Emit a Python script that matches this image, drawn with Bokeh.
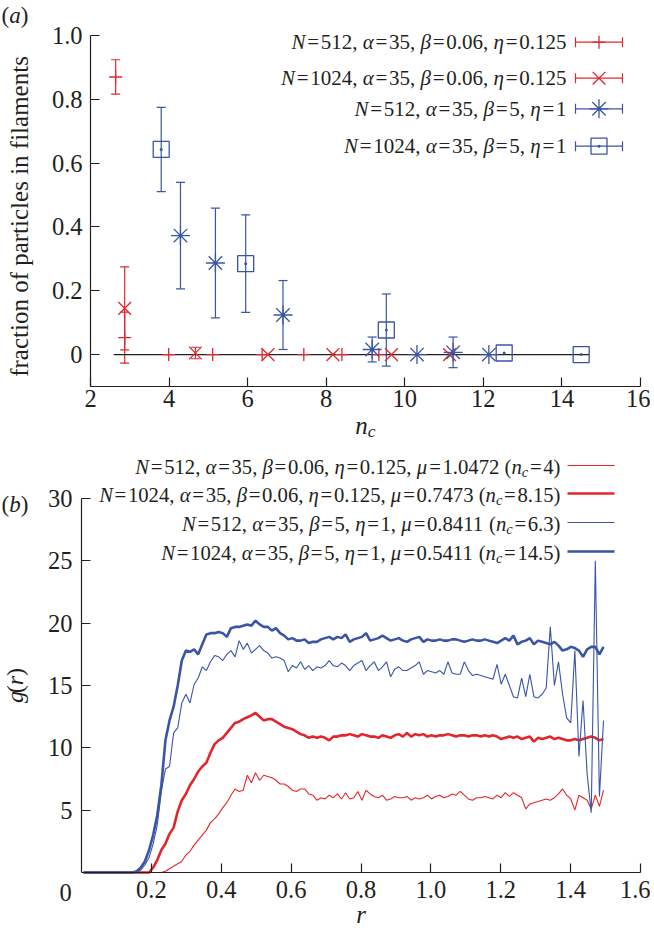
import math
import numpy as np
from bokeh.plotting import figure
from bokeh.layouts import column
from bokeh.models import ColumnDataSource, Whisker, TeeHead, Label, FixedTicker, Range1d
from bokeh.embed import file_html
from bokeh.resources import INLINE

# ---------------- data: panel (a) ----------------
leg_N = ["512", "1024", "512", "1024"]
leg_alpha = ["35", "35", "35", "35"]
leg_beta = ["0.06", "0.06", "5", "5"]
leg_eta = ["0.125", "0.125", "1", "1"]

# N=512, beta=0.06, eta=0.125
nc_a = [2.64, 2.87, 3.99, 5.11, 6.37, 7.43, 8.40, 9.34]
frac_a = [0.870, 0.053, 0.0, 0.0, 0.0, 0.0, 0.0, 0.0]
err_a = [0.054, 0.080, 0.0, 0.0, 0.0, 0.0, 0.0, 0.0]
# N=1024, beta=0.06, eta=0.125
nc_b = [2.87, 4.67, 6.52, 8.17, 9.66, 11.14]
frac_b = [0.145, 0.005, 0.0, 0.0, 0.0, 0.0]
err_b = [0.130, 0.018, 0.0, 0.0, 0.0, 0.0]
# N=512, beta=5, eta=1
nc_c = [4.29, 5.18, 6.90, 9.17, 10.31, 11.23, 12.14]
frac_c = [0.373, 0.287, 0.124, 0.016, 0.0, 0.007, 0.0]
err_c = [0.167, 0.172, 0.108, 0.039, 0.0, 0.048, 0.0]
# N=1024, beta=5, eta=1
nc_d = [3.80, 5.95, 9.53, 12.53, 14.49]
frac_d = [0.643, 0.285, 0.077, 0.005, 0.0]
err_d = [0.132, 0.153, 0.113, 0.0, 0.0]

xlim_a = (2, 16)
ylim_a = (-0.1, 1.0)
xticks_a = [2, 4, 6, 8, 10, 12, 14, 16]
yticks_a = [0, 0.2, 0.4, 0.6, 0.8, 1.0]
ylabels_a = ["0", "0.2", "0.4", "0.6", "0.8", "1.0"]

# ---------------- data: panel (b) ----------------
leg_mu = ["1.0472", "0.7473", "0.8411", "0.5411"]
leg_nc = ["4", "8.15", "6.3", "14.5"]
n_bins = 128
r_max = 1.5
r = (np.arange(n_bins) + 0.5) * r_max / n_bins  # bin centres

g_512_low = [
    0, 0, 0, 0, 0, 0, 0, 0, 0, 0,
    0, 0, 0, 0, 0, 0, 0, 0, 0, 0,
    0.1, 0.3, 0.5, 0.7, 0.9, 1.4, 1.7, 2.2, 2.6, 3.0,
    3.4, 4.0, 4.3, 4.7, 5.2, 5.6, 6.2, 6.7, 6.5, 6.6,
    7.8, 7.2, 8.0, 7.4, 7.8, 7.7, 7.6, 7.4, 7.1, 7.1,
    6.9, 6.6, 6.5, 6.7, 6.7, 6.3, 6.2, 5.8, 6.0, 5.9,
    6.2, 6.0, 6.3, 5.9, 6.4, 5.9, 6.0, 6.5, 5.8, 6.6,
    6.3, 6.1, 6.0, 6.2, 5.8, 5.9, 6.1, 6.0, 6.0, 6.1,
    5.8, 6.0, 5.9, 6.0, 6.2, 5.9, 6.1, 6.2, 6.0, 6.1,
    6.3, 6.2, 6.5, 6.2, 5.9, 5.8, 6.0, 6.0, 6.1, 6.0,
    5.9, 6.2, 6.0, 6.4, 6.1, 6.4, 6.2, 6.0, 5.1, 5.5,
    5.6, 5.7, 5.8, 5.9, 5.8, 6.0, 6.3, 6.7, 6.2, 5.9,
    5.0, 6.2, 6.0, 5.8, 5.1, 6.2, 5.3, 6.6,
]
g_1024_low = [
    0, 0, 0, 0, 0, 0, 0, 0, 0, 0,
    0, 0, 0, 0, 0, 0, 0, 0.4, 1.0, 1.8,
    2.3, 3.1, 3.6, 4.9, 5.8, 6.3, 7.0, 7.5, 8.1, 8.5,
    8.8, 9.6, 10.3, 10.6, 10.8, 11.2, 11.6, 12.0, 12.1, 12.3,
    12.45, 12.6, 12.8, 12.5, 12.2, 12.3, 12.3, 12.1, 11.9, 11.7,
    11.6, 11.5, 11.3, 11.1, 11.0, 10.8, 10.9, 10.8, 10.9, 10.8,
    10.6, 10.9, 10.9, 11.0, 11.0, 11.1, 11.0, 10.9, 11.1, 11.0,
    10.9, 10.9, 10.8, 11.0, 10.9, 10.8, 11.0, 11.1, 10.9, 11.2,
    10.9, 11.1, 11.0, 11.1, 10.9, 11.0, 10.9, 11.0, 11.0, 11.1,
    11.0, 10.9, 11.0, 11.0, 10.9, 11.0, 11.0, 10.9, 11.0, 10.9,
    11.0, 10.9, 10.7, 10.8, 10.9, 10.8, 10.9, 10.7, 10.8, 10.9,
    10.5, 10.8, 10.7, 10.8, 10.9, 10.7, 10.8, 10.7, 10.6, 10.6,
    10.7, 10.6, 10.7, 10.8, 10.9, 10.8, 10.6, 10.7,
]
g_512_high = [
    0, 0, 0, 0, 0, 0, 0, 0, 0, 0,
    0, 0, 0, 0, 0.2, 0.6, 1.2, 2.3, 3.8, 6.5,
    8.3, 8.5, 11.2, 11.6, 13.6, 14.3, 13.6, 15.1, 15.6, 16.5,
    16.2, 16.9, 17.4, 17.3, 17.0, 17.5, 17.8, 17.3, 18.6, 17.9,
    18.4, 17.6, 17.9, 18.2, 17.8, 17.6, 17.2, 17.3, 17.2, 17.0,
    16.1, 16.6, 16.4, 16.9, 16.3, 16.6, 16.2, 16.5, 16.4, 16.6,
    17.0, 16.6, 16.5, 16.8, 16.6, 16.2, 16.6, 16.8, 17.0, 16.2,
    16.6, 16.9, 16.2, 16.5, 16.9, 15.7, 16.3, 16.5, 16.2, 16.2,
    16.4, 16.6, 16.9, 15.9, 16.2, 16.1, 16.0, 16.2, 15.9, 16.9,
    16.0, 15.9, 15.9, 16.9, 16.2, 15.8, 15.9, 15.8, 15.7, 15.6,
    15.5, 16.7, 15.1, 15.9, 15.0, 14.1, 14.0, 15.6, 14.1, 15.9,
    14.1, 14.0, 14.3, 14.8, 19.7, 15.0, 16.9, 14.3, 12.4, 12.0,
    17.8, 9.3, 13.8, 7.9, 4.8, 25.0, 6.1, 12.2,
]
g_1024_high = [
    0, 0, 0, 0, 0, 0, 0, 0, 0, 0,
    0, 0, 0, 0.1, 0.4, 0.9, 1.8, 3.0, 4.6, 7.0,
    10.6, 12.2, 13.3, 15.0, 17.0, 17.8, 17.7, 17.9, 17.5, 18.3,
    19.1, 19.2, 19.2, 19.3, 19.2, 18.9, 19.6, 19.7, 19.7, 19.8,
    19.9, 19.8, 20.2, 19.9, 19.7, 19.7, 19.4, 19.6, 19.2, 19.0,
    18.7, 18.8, 18.6, 18.6, 18.7, 18.4, 18.5, 18.5, 18.7, 18.8,
    18.9, 18.7, 18.9, 18.8, 19.1, 18.5, 18.7, 18.8, 18.9, 19.2,
    18.6, 18.7, 18.8, 19.0, 18.8, 18.6, 18.7, 18.8, 18.6, 18.5,
    18.7, 18.8, 18.9, 18.5, 18.7, 18.6, 18.6, 18.7, 18.6, 18.6,
    18.7, 18.7, 18.6, 18.5, 18.6, 18.7, 18.6, 18.6, 18.7, 18.6,
    18.5, 18.4, 18.6, 18.8, 18.6, 19.0, 18.3, 18.5, 18.6, 18.8,
    18.3, 18.6, 18.5, 18.4, 18.3, 18.5, 18.2, 17.8, 17.9, 18.1,
    18.0, 17.8, 17.3, 17.9, 18.1, 18.1, 17.5, 18.1,
]
xlim_b = (0, 1.6)
ylim_b = (0, 30)
xticks_b = [0.2, 0.4, 0.6, 0.8, 1.0, 1.2, 1.4, 1.6]
xlabels_b = ["0.2", "0.4", "0.6", "0.8", "1.0", "1.2", "1.4", "1.6"]
yticks_b = [5, 10, 15, 20, 25, 30]

# ---------------- style ----------------
RED = "#e3262c"
BLUE = "#3a55a5"
INK = "#231f20"
FONT = "Liberation Serif"
TICK_SIZE = "24.5px"
BASE_FIX = 0.27  # empirical shift of the rendered alphabetic baseline (in em)

ROMAN_W = {".": 0.25, ",": 0.25, "=": 0.564, "(": 0.333, ")": 0.333, " ": 0.25}
ITALIC_W = {"N": 0.667, "n": 0.5, "c": 0.444, "r": 0.389, "g": 0.4, "a": 0.5, "b": 0.5,
            "α": 0.53, "β": 0.5, "η": 0.5, "μ": 0.52}


def tok_w(text, style, size):
    table = ROMAN_W if style == "r" else ITALIC_W
    s = size * (0.7 if style == "sub" else 1.0)
    return sum(table.get(ch, 0.5) for ch in text) * s


def tok_gap(prev, cur, size):
    if prev is None or cur[1] == "sub":
        return 0.0
    if prev[0] == "=" or cur[0] == "=":
        return 0.08 * size
    if prev[0].endswith(","):
        return 0.25 * size
    if cur[0] == "(":
        return 0.25 * size
    return 0.0


class Canvas:
    """Pixel layout of one figure: the data box (fl..fr, ft..fb in canvas px) maps to xlim/ylim;
    the plotting frame covers the whole canvas so every text can sit inside it."""

    def __init__(self, w, h, xlim, ylim, fl, fr, ft, fb):
        self.w, self.h = w, h
        self.xlim, self.ylim, self.fl, self.fr, self.ft, self.fb = xlim, ylim, fl, fr, ft, fb

    def dx(self, px):
        return self.xlim[0] + (px - self.fl) / (self.fr - self.fl) * (self.xlim[1] - self.xlim[0])

    def dy(self, py):
        return self.ylim[1] - (py - self.ft) / (self.fb - self.ft) * (self.ylim[1] - self.ylim[0])

    def x_range(self):
        return Range1d(self.dx(0), self.dx(self.w))

    def y_range(self):
        return Range1d(self.dy(self.h), self.dy(0))


def add_text(p, cv, px, py, text, size, italic=False, angle=0.0, align="left", baseline="alphabetic", color=INK):
    p.add_layout(Label(x=cv.dx(px), y=cv.dy(py), x_units="data", y_units="data", text=text,
                       angle=angle, text_font=FONT, text_font_size=f"{size:.1f}px",
                       text_font_style="italic" if italic else "normal",
                       text_color=color, text_align=align, text_baseline=baseline))


def draw_rich(p, cv, toks, anchor_px, center_py, size, align="right", vertical=False, tight=False):
    """Mixed upright / italic / subscript text; center_py is the visual middle of the digits."""
    widths = [tok_w(t, s, size) for t, s in toks]
    gaps = [0.0 if tight else tok_gap(toks[i - 1] if i else None, toks[i], size) for i in range(len(toks))]
    total = sum(widths) + sum(gaps)
    if not vertical:
        if align == "right":
            x = anchor_px - total
        elif align == "center":
            x = anchor_px - total / 2
        else:
            x = anchor_px
        base = center_py + (0.34 - BASE_FIX) * size
        for (t, s), w, gp in zip(toks, widths, gaps):
            x += gp
            fs = size * (0.7 if s == "sub" else 1.0)
            yb = base + (0.22 * size if s == "sub" else 0.0)
            add_text(p, cv, x, yb, t, fs, italic=(s != "r"))
            x += w
    else:
        y = center_py + total / 2
        bx = anchor_px + (0.3 - BASE_FIX) * size
        for (t, s), w, gp in zip(toks, widths, gaps):
            y -= gp
            add_text(p, cv, bx, y, t, size, italic=(s != "r"), angle=math.pi / 2)
            y -= w


def make_fig(cv):
    p = figure(width=cv.w, height=cv.h, x_range=cv.x_range(), y_range=cv.y_range(),
               output_backend="svg", toolbar_location=None, title=None,
               min_border=0, min_border_left=0, min_border_right=0,
               min_border_top=0, min_border_bottom=0)
    for ax in p.axis:
        ax.axis_line_color = INK
        ax.axis_line_width = 1.2
        ax.major_tick_line_color = INK
        ax.major_tick_line_width = 1.2
        ax.major_tick_in = 9
        ax.major_tick_out = 0
        ax.minor_tick_in = 0
        ax.minor_tick_out = 0
        ax.major_label_text_font = FONT
        ax.major_label_text_font_size = TICK_SIZE
        ax.major_label_text_color = INK
    p.xaxis.fixed_location = cv.ylim[0]
    p.xaxis.bounds = cv.xlim
    p.yaxis.fixed_location = cv.xlim[0]
    p.yaxis.bounds = cv.ylim
    p.xgrid.grid_line_color = None
    p.ygrid.grid_line_color = None
    p.outline_line_color = None
    return p


def param_tokens(i, with_mu):
    toks = [("N", "i"), ("=", "r"), (leg_N[i] + ",", "r"),
            ("α", "i"), ("=", "r"), (leg_alpha[i] + ",", "r"),
            ("β", "i"), ("=", "r"), (leg_beta[i] + ",", "r"),
            ("η", "i"), ("=", "r")]
    if not with_mu:
        toks.append((leg_eta[i], "r"))
    else:
        toks += [(leg_eta[i] + ",", "r"), ("μ", "i"), ("=", "r"), (leg_mu[i], "r"),
                 ("(", "r"), ("n", "i"), ("c", "sub"), ("=", "r"), (leg_nc[i] + ")", "r")]
    return toks


W = 650
# ================= panel (a) =================
HA = 450
ca = Canvas(W, HA, xlim_a, ylim_a, 90, 640, 35, 386)
pa = make_fig(ca)
pa.xaxis.ticker = FixedTicker(ticks=xticks_a)
pa.yaxis.ticker = FixedTicker(ticks=yticks_a)
pa.yaxis.major_label_overrides = {t: l for t, l in zip(yticks_a, ylabels_a)}
pa.xaxis.major_label_standoff = 3
pa.yaxis.major_label_standoff = 8

all_nc = nc_a + nc_b + nc_c + nc_d
pa.line([min(all_nc) - 0.05, max(all_nc) + 0.2], [0, 0], line_color=INK, line_width=1.2)

series_a = [
    (nc_a, frac_a, err_a, "cross", RED, 13),
    (nc_b, frac_b, err_b, "x", RED, 18),
    (nc_c, frac_c, err_c, "asterisk", BLUE, 19),
    (nc_d, frac_d, err_d, "square", BLUE, 16),
]
for xs, ys, es, mk, col, sz in series_a:
    xe = [x for x, e in zip(xs, es) if e > 0]
    ye = [y for y, e in zip(ys, es) if e > 0]
    ee = [e for e in es if e > 0]
    src = ColumnDataSource(dict(base=xe, lower=[y - e for y, e in zip(ye, ee)],
                                upper=[y + e for y, e in zip(ye, ee)]))
    pa.add_layout(Whisker(source=src, base="base", lower="lower", upper="upper", dimension="height",
                          line_color=col, line_width=1.2,
                          upper_head=TeeHead(size=9, line_color=col, line_width=1.2),
                          lower_head=TeeHead(size=9, line_color=col, line_width=1.2)))
    pa.scatter(xs, ys, marker=mk, size=sz, line_color=col, fill_color=None, line_width=1.3)
    if col == BLUE:
        pa.scatter(xs, ys, marker="circle", size=3, fill_color=col, line_color=None)

# legend (a): text on the left, error-bar sample on the right
leg_rows_a = [41.7, 77.7, 108.3, 145.7]
for i, (row, (xs, ys, es, mk, col, sz)) in enumerate(zip(leg_rows_a, series_a)):
    draw_rich(pa, ca, param_tokens(i, False), 566, row - 1.5, 21, align="right")
    src = ColumnDataSource(dict(base=[ca.dy(row)], lower=[ca.dx(575)], upper=[ca.dx(622)]))
    pa.add_layout(Whisker(source=src, base="base", lower="lower", upper="upper", dimension="width",
                          line_color=col, line_width=1.2,
                          upper_head=TeeHead(size=10, line_color=col, line_width=1.2),
                          lower_head=TeeHead(size=10, line_color=col, line_width=1.2)))
    pa.scatter([ca.dx(598.5)], [ca.dy(row)], marker=mk, size=sz, line_color=col, fill_color=None, line_width=1.3)
    if col == BLUE:
        pa.scatter([ca.dx(598.5)], [ca.dy(row)], marker="circle", size=3, fill_color=col, line_color=None)

# axis titles & panel label (a)
add_text(pa, ca, 19, 216, "fraction of particles in filaments", 25, angle=math.pi / 2,
         align="center", baseline="middle")
draw_rich(pa, ca, [("n", "i"), ("c", "sub")], 365, 432 - 0.34 * 25, 25, align="center")
draw_rich(pa, ca, [("(", "r"), ("a", "i"), (")", "r")], 1, 13, 23, align="left")

# ================= panel (b) =================
HB = 477
OY = HA  # page offset of panel (b)
cb = Canvas(W, HB, xlim_b, ylim_b, 81, 640, 498 - OY, 872 - OY)
pb = make_fig(cb)
pb.xaxis.ticker = FixedTicker(ticks=xticks_b)
pb.xaxis.major_label_overrides = {t: l for t, l in zip(xticks_b, xlabels_b)}
pb.yaxis.ticker = FixedTicker(ticks=yticks_b)
pb.xaxis.major_label_standoff = 8
pb.yaxis.major_label_standoff = 9

series_b = [
    (g_512_low, RED, 1.1),
    (g_1024_low, RED, 2.6),
    (g_512_high, BLUE, 1.1),
    (g_1024_high, BLUE, 2.6),
]
for g, col, lw in series_b:
    pb.line(r, g, line_color=col, line_width=lw)

leg_rows_b = [465, 493, 522, 551]
for i, (row, (g, col, lw)) in enumerate(zip(leg_rows_b, series_b)):
    draw_rich(pb, cb, param_tokens(i, True), 560, row - OY, 20.7, align="right")
    pb.segment(x0=[cb.dx(567)], y0=[cb.dy(row - OY)], x1=[cb.dx(614)], y1=[cb.dy(row - OY)],
               line_color=col, line_width=lw)

draw_rich(pb, cb, [("g", "i"), ("(", "r"), ("r", "i"), (")", "r")], 14, 685 - OY, 24,
          vertical=True, tight=True)
draw_rich(pb, cb, [("r", "i")], 360.5, 921 - OY - 0.34 * 25, 25, align="center")
draw_rich(pb, cb, [("0", "r")], 65, 890 - OY, 24.5, align="center")
draw_rich(pb, cb, [("(", "r"), ("b", "i"), (")", "r")], 1, 502 - OY, 23, align="left")

layout = column(pa, pb, spacing=0)
open("out.html", "w").write(file_html(layout, INLINE))
